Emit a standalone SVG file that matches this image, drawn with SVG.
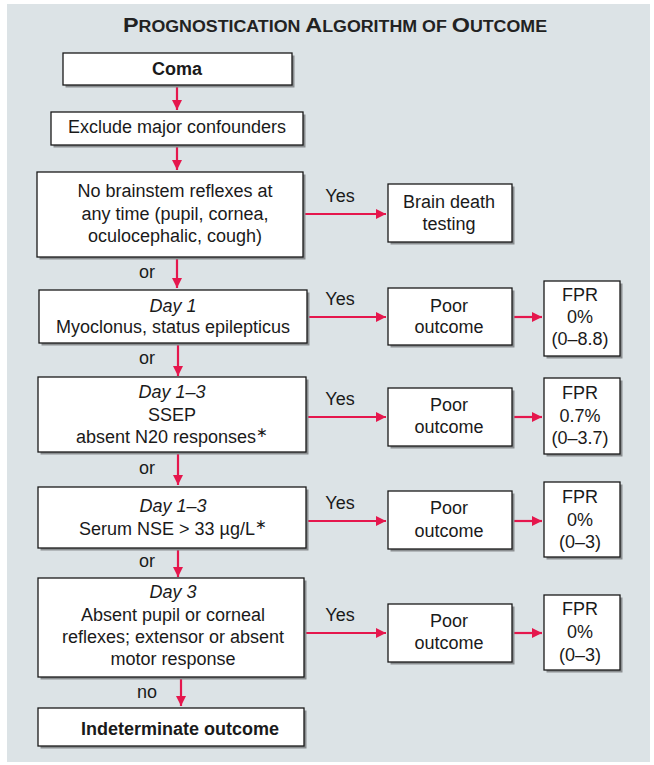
<svg xmlns="http://www.w3.org/2000/svg" width="654" height="765" viewBox="0 0 654 765">
<style>
text{font-family:"Liberation Sans",Arial,Helvetica,sans-serif;font-size:18px;fill:#1a1a1a;text-anchor:middle}
.b{font-weight:bold}
.i{font-style:italic}
.box{fill:#fff;stroke:#1a1a1a;stroke-width:1.3}
.sh{fill:#8a8e90}
.c{stroke:#e5174d;stroke-width:2.2;fill:none}
.ttl{font-weight:bold;text-anchor:start;fill:#222}
</style>
<defs>
<marker id="ah" viewBox="0 0 10 10" refX="10" refY="5" markerWidth="11" markerHeight="10" orient="auto" markerUnits="userSpaceOnUse">
<path d="M0,0 L10,5 L0,10 z" fill="#e5174d"/>
</marker>
</defs>
<rect x="7" y="4" width="643" height="758" fill="#dce3e6"/>
<text class="ttl" x="123" y="32" textLength="424" lengthAdjust="spacingAndGlyphs"><tspan font-size="21">P</tspan><tspan font-size="16">ROGNOSTICATION </tspan><tspan font-size="21">A</tspan><tspan font-size="16">LGORITHM OF </tspan><tspan font-size="21">O</tspan><tspan font-size="16">UTCOME</tspan></text>

<g id="connectors">
<path class="c" marker-end="url(#ah)" d="M177,85 V110"/>
<path class="c" marker-end="url(#ah)" d="M177,145 V170"/>
<path class="c" marker-end="url(#ah)" d="M303,214 H386"/>
<path class="c" marker-end="url(#ah)" d="M177,257 V288"/>
<path class="c" marker-end="url(#ah)" d="M307,317 H386"/>
<path class="c" marker-end="url(#ah)" d="M512,317 H542"/>
<path class="c" marker-end="url(#ah)" d="M178,343 V376"/>
<path class="c" marker-end="url(#ah)" d="M307,417 H386"/>
<path class="c" marker-end="url(#ah)" d="M512,417 H542"/>
<path class="c" marker-end="url(#ah)" d="M178,452 V485"/>
<path class="c" marker-end="url(#ah)" d="M307,521 H386"/>
<path class="c" marker-end="url(#ah)" d="M512,521 H542"/>
<path class="c" marker-end="url(#ah)" d="M178,548 V577"/>
<path class="c" marker-end="url(#ah)" d="M304,633 H386"/>
<path class="c" marker-end="url(#ah)" d="M512,633 H542"/>
<path class="c" marker-end="url(#ah)" d="M181,677 V706"/>
<text x="340" y="202">Yes</text>
<text x="340" y="305">Yes</text>
<text x="340" y="405">Yes</text>
<text x="340" y="509">Yes</text>
<text x="340" y="621">Yes</text>
<text x="147" y="278">or</text>
<text x="147" y="364">or</text>
<text x="147" y="474">or</text>
<text x="147" y="567">or</text>
<text x="147" y="698">no</text>
</g>

<g id="coma">
<rect class="sh" x="65.5" y="55.5" width="229" height="32"/>
<rect class="box" x="63" y="53" width="229" height="32"/>
<text class="b" x="177" y="75">Coma</text>
</g>
<g id="exclude">
<rect class="sh" x="53.5" y="114.5" width="252" height="33"/>
<rect class="box" x="51" y="112" width="252" height="33"/>
<text x="177" y="133">Exclude major confounders</text>
</g>
<g id="brainstem">
<rect class="sh" x="39.5" y="174.5" width="266" height="85"/>
<rect class="box" x="37" y="172" width="266" height="85"/>
<text x="175" y="197">No brainstem reflexes at</text>
<text x="175" y="220">any time (pupil, cornea,</text>
<text x="175" y="242">oculocephalic, cough)</text>
</g>
<g id="braindeath">
<rect class="sh" x="390.5" y="186.5" width="124" height="58"/>
<rect class="box" x="388" y="184" width="124" height="58"/>
<text x="449" y="208">Brain death</text>
<text x="449" y="230">testing</text>
</g>

<g id="day1">
<rect class="sh" x="41.5" y="292.5" width="268" height="53"/>
<rect class="box" x="39" y="290" width="268" height="53"/>
<text class="i" x="173" y="312">Day 1</text>
<text x="173" y="333">Myoclonus, status epilepticus</text>
</g>
<g id="poor1">
<rect class="sh" x="390.5" y="290.5" width="124" height="57"/>
<rect class="box" x="388" y="288" width="124" height="57"/>
<text x="449" y="312">Poor</text>
<text x="449" y="333">outcome</text>
</g>
<g id="fpr1">
<rect class="sh" x="546.5" y="283.5" width="76" height="75"/>
<rect class="box" x="544" y="281" width="76" height="75"/>
<text x="580" y="301">FPR</text>
<text x="580" y="323">0%</text>
<text x="580" y="345">(0–8.8)</text>
</g>

<g id="ssep">
<rect class="sh" x="40.5" y="379.5" width="268" height="75"/>
<rect class="box" x="38" y="377" width="268" height="75"/>
<text class="i" x="172" y="398">Day 1–3</text>
<text x="172" y="421">SSEP</text>
<text x="172" y="443">absent N20 responses<tspan font-size="14" dy="-6">∗</tspan></text>
</g>
<g id="poor2">
<rect class="sh" x="390.5" y="390.5" width="124" height="58"/>
<rect class="box" x="388" y="388" width="124" height="58"/>
<text x="449" y="411">Poor</text>
<text x="449" y="433">outcome</text>
</g>
<g id="fpr2">
<rect class="sh" x="546.5" y="380.5" width="76" height="76"/>
<rect class="box" x="544" y="378" width="76" height="76"/>
<text x="580" y="399">FPR</text>
<text x="580" y="422">0.7%</text>
<text x="580" y="444">(0–3.7)</text>
</g>

<g id="nse">
<rect class="sh" x="40.5" y="489.5" width="268" height="61"/>
<rect class="box" x="38" y="487" width="268" height="61"/>
<text class="i" x="173" y="512">Day 1–3</text>
<text x="173" y="535">Serum NSE &gt; 33 µg/L<tspan font-size="14" dy="-6">∗</tspan></text>
</g>
<g id="poor3">
<rect class="sh" x="390.5" y="493.5" width="124" height="58"/>
<rect class="box" x="388" y="491" width="124" height="58"/>
<text x="449" y="514">Poor</text>
<text x="449" y="537">outcome</text>
</g>
<g id="fpr3">
<rect class="sh" x="546.5" y="484.5" width="76" height="75"/>
<rect class="box" x="544" y="482" width="76" height="75"/>
<text x="580" y="503">FPR</text>
<text x="580" y="526">0%</text>
<text x="580" y="548">(0–3)</text>
</g>

<g id="day3">
<rect class="sh" x="40.5" y="580.5" width="266" height="99"/>
<rect class="box" x="38" y="578" width="266" height="99"/>
<text class="i" x="173" y="598">Day 3</text>
<text x="173" y="621">Absent pupil or corneal</text>
<text x="173" y="643">reflexes; extensor or absent</text>
<text x="173" y="665">motor response</text>
</g>
<g id="poor4">
<rect class="sh" x="390.5" y="606.5" width="124" height="58"/>
<rect class="box" x="388" y="604" width="124" height="58"/>
<text x="449" y="627">Poor</text>
<text x="449" y="649">outcome</text>
</g>
<g id="fpr4">
<rect class="sh" x="546.5" y="597.5" width="76" height="75"/>
<rect class="box" x="544" y="595" width="76" height="75"/>
<text x="580" y="615">FPR</text>
<text x="580" y="638">0%</text>
<text x="580" y="661">(0–3)</text>
</g>

<g id="indeterminate">
<rect class="sh" x="40.5" y="710.5" width="266" height="38"/>
<rect class="box" x="38" y="708" width="266" height="38"/>
<text class="b" x="180" y="735">Indeterminate outcome</text>
</g>
</svg>
